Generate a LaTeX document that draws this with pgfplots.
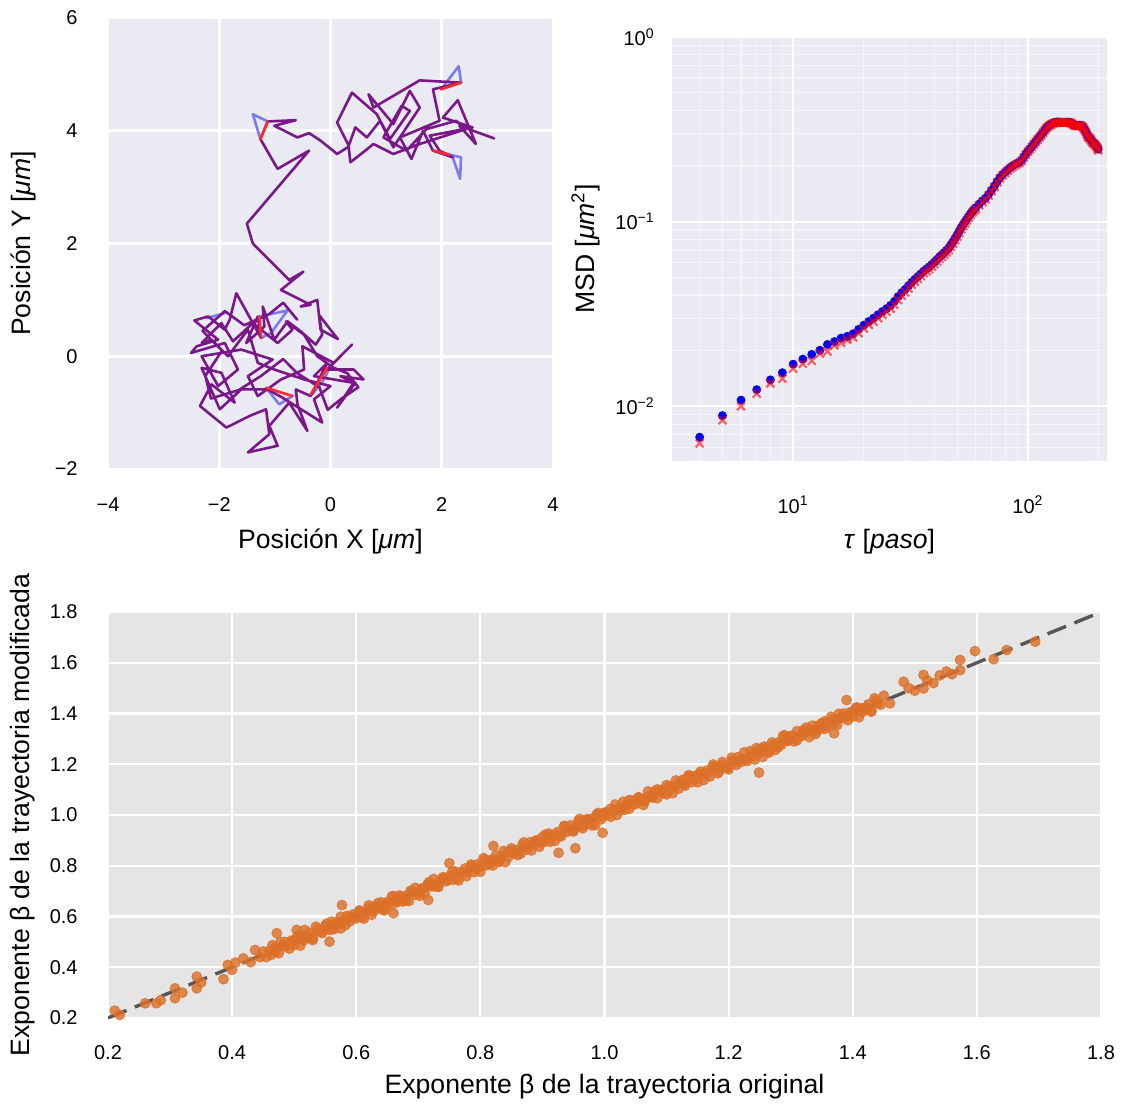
\documentclass[border=0pt]{standalone}
\usepackage{fontspec}
\setmainfont{Liberation Sans}
\usepackage{pgfplots}
\pgfplotsset{compat=1.18}
\definecolor{bgsb}{HTML}{EAEAF2}
\definecolor{bggg}{HTML}{E5E5E5}
\definecolor{trajp}{HTML}{7A188A}
\definecolor{trajb}{HTML}{7070F0}
\definecolor{trajr}{HTML}{FF2A2A}
\definecolor{scat}{HTML}{DC7028}
\definecolor{dline}{HTML}{333333}
\pgfplotsset{
 myax/.style={
   scale only axis, anchor=south west,
   axis line style={draw=none},
   major tick length=0pt, minor tick length=0pt,
   tick label style={font=\fontsize{10}{12}\selectfont, inner sep=0pt},
   label style={font=\fontsize{13.3}{16}\selectfont},
 },
 trajline/.style={no marks, line width=1.3pt, line join=round, line cap=round},
}
\begin{document}
\begin{tikzpicture}
\useasboundingbox (0,0) rectangle (562pt,552pt);
% ---------------- top left: trajectory
\begin{axis}[myax, at={(54pt,317.5pt)}, width=222.5pt, height=225.5pt,
 axis background/.style={fill=bgsb},
 xmin=-4,xmax=4,ymin=-2,ymax=6,
 xtick={-4,-2,0,2,4}, xticklabels={−4,−2,0,2,4},
 ytick={-2,0,2,4,6}, yticklabels={−2,0,2,4,6},
 grid=major, major grid style={white, line width=1.4pt},
 xticklabel style={anchor=center, yshift=-18pt},
 yticklabel style={anchor=east, xshift=-15pt},
 xlabel={Posición X [\textit{μm}]}, ylabel={Posición Y [\textit{μm}]},
 xlabel style={at={(axis description cs:0.5,-0.160)}, anchor=center},
 ylabel style={at={(axis description cs:-0.189,0.5)}, anchor=center},
]
\addplot[trajline, trajb, opacity=0.9] coordinates {(-1.129,4.165) (-1.396,4.294) (-1.260,3.853)};
\addplot[trajline, trajb, opacity=0.9] coordinates {(1.990,4.735) (2.305,5.147) (2.347,4.853)};
\addplot[trajline, trajb, opacity=0.9] coordinates {(1.842,3.647) (2.347,3.529) (2.329,3.147) (2.198,3.529)};
\addplot[trajline, trajb, opacity=0.9] coordinates {(-2.228,0.676) (-1.901,0.765)};
\addplot[trajline, trajb, opacity=0.9] coordinates {(-1.277,0.706) (-0.772,0.812) (-1.070,0.412) (-1.248,0.324)};
\addplot[trajline, trajb, opacity=0.9] coordinates {(-1.158,-0.559) (-0.921,-0.853) (-0.683,-0.706)};
\addplot[trajline, trajb, opacity=0.9] coordinates {(-0.327,-0.676) (-0.119,-0.412) (-0.030,-0.235)};
\addplot[trajline, trajp] table {
2.941 3.865
2.317 4.088
2.614 3.765
2.288 4.541
2.020 4.235
2.555 4.059
1.783 3.912
1.961 3.647
2.198 3.529
1.842 3.647
1.664 4.000
1.456 3.500
1.248 3.882
1.961 4.176
1.842 4.735
2.347 4.853
1.604 4.894
0.772 4.412
0.683 4.647
1.129 4.118
1.426 4.706
1.604 4.412
1.129 3.706
0.891 4.176
0.654 3.882
0.446 4.059
0.327 3.735
0.119 4.147
0.386 4.676
0.832 4.294
1.070 3.853
1.426 4.353
1.277 4.441
0.951 3.882
1.367 3.647
1.723 4.029
2.258 4.176
2.436 4.029
1.604 3.765
1.129 3.588
0.772 3.765
0.564 3.600
0.357 3.441
0.327 3.718
0.119 3.588
-0.178 3.824
-0.386 3.959
-0.594 3.882
-1.010 4.088
-0.624 4.188
-1.129 4.165
-1.260 3.853
-0.951 3.324
-0.386 3.647
-1.503 2.353
-1.396 2.000
-0.743 1.353
-0.487 1.500
-0.891 1.176
-0.357 0.912
-0.535 0.882
-0.238 1.000
-0.178 0.471
0.131 0.306
-0.208 0.735
-0.149 0.382
-0.267 0.206
-0.535 0.441
-0.772 0.618
-1.010 0.294
-1.218 0.882
-1.188 0.529
-1.515 0.235
-1.307 0.706
-1.248 0.324
-1.693 1.118
-1.812 0.647
-1.901 0.471
-2.198 0.706
-2.448 0.635
-2.020 0.294
-2.406 0.176
-2.507 0.059
-1.901 0.235
-1.664 -0.235
-2.020 -0.529
-2.317 0.000
-1.604 0.118
-1.040 -0.059
-1.485 -0.353
-1.307 -0.706
-0.891 -0.412
-0.475 -0.235
-0.505 0.176
0.059 -0.118
0.386 0.206
-0.059 -0.235
0.416 -0.235
0.594 -0.412
0.178 -0.353
0.446 -0.471
0.119 -0.912
0.416 -0.471
-0.297 -0.353
-0.059 -0.118
-0.357 -0.706
-0.624 -0.588
-0.594 -0.853
-0.416 -1.324
-0.743 -0.824
-1.099 -1.235
-0.951 -1.588
-1.485 -1.706
-1.099 -1.382
-1.159 -0.941
-1.456 -1.059
-1.872 -1.265
-2.347 -0.882
-2.139 -0.500
-1.723 -0.824
-1.961 -0.294
-2.317 -0.206
-1.990 -0.941
-1.604 -0.588
-1.129 -0.588
-0.862 -0.735
-0.149 -1.176
-0.297 -0.765
0.000 -0.529
-0.475 -0.412
-1.010 -0.235
-1.307 -0.118
-1.485 0.471
-1.842 0.000
-2.139 0.294
-2.317 0.235
-1.961 0.588
-1.753 0.265
-1.396 0.588
-0.951 0.235
-0.683 0.471
-0.802 0.618
-0.475 0.382
-0.238 0.000
0.059 -0.206
0.300 -0.300
0.500 -0.550
0.200 -0.750
-0.050 -0.950
-0.200 -0.550
-0.600 -0.300
-0.850 -0.050
-1.250 -0.350
-1.650 -0.600
-2.150 -0.750
-2.250 -0.350
-1.950 0.100
-2.300 0.450
-1.900 0.800
-1.550 0.550
-1.100 0.750
-0.850 0.950
-0.600 0.650
};
\addplot[trajline, trajr] coordinates {(-1.129,4.165) (-1.260,3.853)};
\addplot[trajline, trajr] coordinates {(1.990,4.735) (2.347,4.853)};
\addplot[trajline, trajr] coordinates {(1.842,3.647) (2.139,3.576)};
\addplot[trajline, trajr] coordinates {(-1.277,0.706) (-1.248,0.324)};
\addplot[trajline, trajr] coordinates {(-1.158,-0.559) (-0.683,-0.706)};
\addplot[trajline, trajr] coordinates {(-0.357,-0.676) (-0.059,-0.206)};
\end{axis}
% ---------------- top right: MSD
\begin{axis}[myax, at={(336pt,321.5pt)}, width=217.5pt, height=212pt,
 axis background/.style={fill=bgsb},
 xmode=log, ymode=log, xmin=3.05, xmax=217, ymin=0.00505, ymax=1,
 xtick={10,100}, xticklabels={10\textsuperscript{1},10\textsuperscript{2}},
 ytick={0.01,0.1,1}, yticklabels={10\textsuperscript{−2},10\textsuperscript{−1},10\textsuperscript{0}},
 minor xtick={4,5,6,7,8,9,20,30,40,50,60,70,80,90,200},
 minor ytick={0.006,0.007,0.008,0.009,0.02,0.03,0.04,0.05,0.06,0.07,0.08,0.09,0.2,0.3,0.4,0.5,0.6,0.7,0.8,0.9},
 grid=both, major grid style={white, line width=1.1pt},
 minor grid style={white, opacity=0.55, line width=0.6pt},
 xticklabel style={anchor=base, yshift=-26pt},
 yticklabel style={anchor=east, xshift=-8.5pt},
 xlabel={\textit{τ} [\textit{paso}]}, ylabel={MSD [\textit{μm}\textsuperscript{2}]},
 xlabel style={at={(axis description cs:0.5,-0.189)}, anchor=center},
 ylabel style={at={(axis description cs:-0.198,0.5)}, anchor=center},
]
\addplot[only marks, color=blue, mark=*, mark size=2pt, mark options={fill=blue}] table {
4 0.0068
5 0.0089
6 0.0108
7 0.0123
8 0.0139
9 0.0152
10 0.0169
11 0.0180
12 0.0191
13 0.0201
14 0.0216
15 0.0224
16 0.0234
17 0.0239
18 0.0247
19 0.0261
20 0.0275
21 0.0288
22 0.0300
23 0.0313
24 0.0326
25 0.0338
26 0.0352
27 0.0370
28 0.0393
29 0.0413
30 0.0430
31 0.0450
32 0.0470
33 0.0488
34 0.0505
35 0.0522
36 0.0540
37 0.0555
38 0.0570
39 0.0588
40 0.0605
41 0.0625
42 0.0645
43 0.0662
44 0.0680
45 0.0700
46 0.0720
47 0.0750
48 0.0780
49 0.0815
50 0.0850
51 0.0890
52 0.0930
53 0.0965
54 0.1000
55 0.1035
56 0.1070
57 0.1105
58 0.1140
59 0.1165
60 0.1190
62 0.1245
64 0.1295
66 0.1340
68 0.1405
70 0.1480
72 0.1560
74 0.1650
76 0.1735
78 0.1800
80 0.1855
82 0.1905
84 0.1960
86 0.2000
88 0.2040
90 0.2070
92 0.2100
94 0.2150
96 0.2240
98 0.2330
100 0.2410
102 0.2480
104 0.2560
106 0.2640
108 0.2720
110 0.2800
112 0.2880
114 0.2960
116 0.3050
118 0.3140
120 0.3230
122 0.3290
124 0.3340
126 0.3385
128 0.3420
130 0.3445
132 0.3460
134 0.3465
136 0.3460
138 0.3455
140 0.3450
142 0.3450
144 0.3450
146 0.3455
148 0.3460
150 0.3455
152 0.3440
154 0.3400
156 0.3360
158 0.3330
160 0.3310
162 0.3315
164 0.3320
166 0.3330
168 0.3330
170 0.3290
172 0.3240
174 0.3160
176 0.3080
178 0.2990
180 0.2900
182 0.2860
184 0.2820
186 0.2760
188 0.2700
190 0.2670
192 0.2640
194 0.2600
196 0.2560
198 0.2500
199 0.2470
};
\addplot[only marks, color=red, mark=x, mark size=2.8pt, mark options={line width=1.1pt, opacity=0.6}] table {
4 0.0063
5 0.0084
6 0.0100
7 0.0117
8 0.0133
9 0.0141
10 0.0160
11 0.0170
12 0.0176
13 0.0193
14 0.0198
15 0.0214
16 0.0221
17 0.0229
18 0.0236
19 0.0249
20 0.0264
21 0.0276
22 0.0287
23 0.0300
24 0.0313
25 0.0325
26 0.0338
27 0.0354
28 0.0376
29 0.0397
30 0.0414
31 0.0434
32 0.0455
33 0.0472
34 0.0490
35 0.0507
36 0.0525
37 0.0539
38 0.0553
39 0.0570
40 0.0588
41 0.0608
42 0.0628
43 0.0645
44 0.0662
45 0.0681
46 0.0700
47 0.0730
48 0.0760
49 0.0795
50 0.0830
51 0.0870
52 0.0910
53 0.0945
54 0.0980
55 0.1015
56 0.1050
57 0.1085
58 0.1120
59 0.1145
60 0.1170
62 0.1225
64 0.1275
66 0.1320
68 0.1385
70 0.1460
72 0.1540
74 0.1630
76 0.1715
78 0.1780
80 0.1835
82 0.1885
84 0.1940
86 0.1980
88 0.2020
90 0.2050
92 0.2080
94 0.2130
96 0.2220
98 0.2310
100 0.2390
102 0.2460
104 0.2540
106 0.2620
108 0.2700
110 0.2780
112 0.2860
114 0.2940
116 0.3030
118 0.3120
120 0.3210
122 0.3270
124 0.3320
126 0.3365
128 0.3400
130 0.3425
132 0.3440
134 0.3450
136 0.3450
138 0.3445
140 0.3440
142 0.3435
144 0.3435
146 0.3440
148 0.3445
150 0.3440
152 0.3425
154 0.3385
156 0.3345
158 0.3315
160 0.3295
162 0.3300
164 0.3305
166 0.3310
168 0.3310
170 0.3270
172 0.3220
174 0.3140
176 0.3060
178 0.2970
180 0.2880
182 0.2840
184 0.2800
186 0.2740
188 0.2680
190 0.2650
192 0.2620
194 0.2580
196 0.2540
198 0.2480
199 0.2430
};
\end{axis}
% ---------------- bottom: beta scatter
\begin{axis}[myax, at={(54pt,43pt)}, width=496.5pt, height=203pt,
 axis background/.style={fill=bggg},
 xmin=0.2,xmax=1.8,ymin=0.2,ymax=1.8,
 xtick={0.2,0.4,0.6,0.8,1.0,1.2,1.4,1.6,1.8},
 xticklabels={0.2,0.4,0.6,0.8,1.0,1.2,1.4,1.6,1.8},
 ytick={0.2,0.4,0.6,0.8,1.0,1.2,1.4,1.6,1.8},
 yticklabels={0.2,0.4,0.6,0.8,1.0,1.2,1.4,1.6,1.8},
 grid=major, major grid style={white, line width=1.1pt},
 xticklabel style={anchor=center, yshift=-17.5pt},
 yticklabel style={anchor=east, xshift=-15pt},
 xlabel={Exponente β de la trayectoria original},
 ylabel={Exponente β de la trayectoria modificada},
 xlabel style={at={(axis description cs:0.5,-0.170)}, anchor=center},
 ylabel style={at={(axis description cs:-0.086,0.5)}, anchor=center},
]
\addplot[only marks, color=scat, mark=*, mark size=2.5pt, mark options={fill=scat, opacity=0.8}] table {
0.211 0.229
0.219 0.212
0.260 0.258
0.278 0.258
0.285 0.270
0.308 0.317
0.308 0.278
0.320 0.300
0.343 0.363
0.343 0.317
0.350 0.340
0.386 0.353
0.393 0.409
0.400 0.390
0.405 0.418
0.418 0.435
0.430 0.420
0.437 0.468
0.445 0.440
0.472 0.534
0.504 0.547
0.517 0.547
0.557 0.501
0.577 0.645
0.660 0.613
0.716 0.665
0.750 0.810
0.821 0.878
0.926 0.851
0.953 0.869
0.997 0.930
1.249 1.167
1.370 1.322
1.390 1.453
1.450 1.470
1.460 1.440
1.482 1.525
1.490 1.500
1.500 1.490
1.514 1.552
1.514 1.499
1.520 1.530
1.530 1.520
1.540 1.550
1.551 1.565
1.560 1.555
1.573 1.571
1.573 1.611
1.597 1.646
1.627 1.614
1.648 1.650
1.694 1.683
0.450 0.462
0.455 0.440
0.460 0.465
0.465 0.487
0.470 0.462
0.475 0.455
0.480 0.483
0.485 0.500
0.490 0.487
0.495 0.504
0.500 0.488
0.505 0.523
0.510 0.485
0.515 0.521
0.520 0.515
0.525 0.536
0.530 0.513
0.535 0.560
0.540 0.540
0.545 0.535
0.550 0.564
0.555 0.549
0.560 0.580
0.565 0.551
0.570 0.578
0.575 0.553
0.580 0.582
0.585 0.602
0.590 0.581
0.595 0.608
0.600 0.593
0.605 0.624
0.610 0.597
0.615 0.619
0.620 0.644
0.625 0.607
0.630 0.640
0.635 0.633
0.640 0.656
0.645 0.624
0.650 0.657
0.655 0.644
0.660 0.681
0.665 0.661
0.670 0.683
0.675 0.659
0.680 0.681
0.685 0.661
0.690 0.699
0.695 0.713
0.700 0.691
0.705 0.710
0.710 0.691
0.715 0.727
0.720 0.719
0.725 0.748
0.730 0.718
0.735 0.738
0.740 0.755
0.745 0.739
0.750 0.758
0.755 0.745
0.760 0.777
0.765 0.742
0.770 0.772
0.775 0.789
0.780 0.775
0.785 0.805
0.790 0.775
0.795 0.806
0.800 0.797
0.805 0.830
0.810 0.802
0.815 0.821
0.820 0.801
0.825 0.841
0.830 0.817
0.835 0.839
0.840 0.814
0.845 0.855
0.850 0.869
0.855 0.848
0.860 0.861
0.865 0.848
0.870 0.892
0.875 0.864
0.880 0.893
0.885 0.883
0.890 0.897
0.895 0.875
0.900 0.913
0.905 0.896
0.910 0.927
0.915 0.917
0.920 0.898
0.925 0.933
0.930 0.916
0.935 0.955
0.940 0.934
0.945 0.959
0.950 0.940
0.955 0.955
0.960 0.985
0.965 0.948
0.970 0.981
0.975 0.970
0.980 0.986
0.985 0.960
0.990 1.008
0.995 0.983
1.000 1.009
1.005 1.002
1.010 1.025
1.015 1.018
1.020 1.000
1.025 1.017
1.030 1.052
1.035 1.040
1.040 1.025
1.045 1.057
1.050 1.044
1.055 1.070
1.060 1.063
1.065 1.053
1.070 1.093
1.075 1.074
1.080 1.092
1.085 1.066
1.090 1.095
1.095 1.086
1.100 1.118
1.105 1.114
1.110 1.086
1.115 1.116
1.120 1.104
1.125 1.138
1.130 1.126
1.135 1.156
1.140 1.129
1.145 1.152
1.150 1.129
1.155 1.171
1.160 1.158
1.165 1.175
1.170 1.152
1.175 1.199
1.180 1.184
1.185 1.172
1.190 1.209
1.195 1.188
1.200 1.180
1.205 1.212
1.210 1.208
1.215 1.228
1.220 1.209
1.225 1.247
1.230 1.213
1.235 1.236
1.240 1.233
1.245 1.264
1.250 1.260
1.255 1.229
1.260 1.264
1.265 1.252
1.270 1.286
1.275 1.256
1.280 1.286
1.285 1.277
1.290 1.315
1.295 1.292
1.300 1.311
1.305 1.290
1.310 1.330
1.315 1.310
1.320 1.334
1.325 1.327
1.330 1.307
1.335 1.352
1.340 1.330
1.345 1.353
1.350 1.362
1.355 1.340
1.360 1.365
1.365 1.387
1.370 1.362
1.375 1.355
1.380 1.383
1.385 1.400
1.390 1.387
1.395 1.404
1.400 1.388
1.405 1.423
1.410 1.385
1.415 1.421
1.420 1.415
1.425 1.436
1.430 1.413
1.435 1.460
1.440 1.440
1.445 1.435
0.4625 0.4485
0.4700 0.4790
0.4775 0.4985
0.4850 0.4820
0.4925 0.4735
0.5000 0.5060
0.5075 0.5235
0.5150 0.5060
0.5225 0.5245
0.5300 0.5070
0.5375 0.5505
0.5450 0.5390
0.5525 0.5715
0.5600 0.5480
0.5675 0.5715
0.5750 0.5990
0.5825 0.5655
0.5900 0.5980
0.5975 0.5965
0.6050 0.6200
0.6125 0.5915
0.6200 0.6310
0.6275 0.6205
0.6350 0.6530
0.6425 0.6275
0.6500 0.6500
0.6575 0.6795
0.6650 0.6550
0.6725 0.6775
0.6800 0.6620
0.6875 0.7015
0.6950 0.6860
0.7025 0.6815
0.7100 0.7130
0.7175 0.7365
0.7250 0.7190
0.7325 0.7165
0.7400 0.7490
0.7475 0.7455
0.7550 0.7780
0.7625 0.7495
0.7700 0.7760
0.7775 0.7585
0.7850 0.7970
0.7925 0.7885
0.8000 0.7760
0.8075 0.8245
0.8150 0.8070
0.8225 0.8235
0.8300 0.8150
0.8375 0.8585
0.8450 0.8340
0.8525 0.8595
0.8600 0.8420
0.8675 0.8825
0.8750 0.8750
0.8825 0.8605
0.8900 0.9000
0.8975 0.8925
0.9050 0.9230
0.9125 0.8945
0.9200 0.9250
0.9275 0.9175
0.9350 0.9570
0.9425 0.9425
0.9500 0.9350
0.9575 0.9755
0.9650 0.9580
0.9725 0.9835
0.9800 0.9590
0.9875 1.0025
0.9950 0.9940
1.0025 1.0105
1.0100 0.9930
1.0175 1.0415
1.0250 1.0290
1.0325 1.0205
1.0400 1.0590
1.0475 1.0415
1.0550 1.0680
1.0625 1.0395
1.0700 1.0720
1.0775 1.0685
1.0850 1.1010
1.0925 1.0985
1.1000 1.0810
1.1075 1.1045
1.1150 1.1360
1.1225 1.1315
1.1300 1.1160
1.1375 1.1555
1.1450 1.1400
1.1525 1.1625
1.1600 1.1380
1.1675 1.1675
1.1750 1.1900
1.1825 1.1645
1.1900 1.1970
1.1975 1.1865
1.2050 1.2260
1.2125 1.1975
1.2200 1.2210
1.2275 1.2195
1.2350 1.2520
1.2425 1.2185
1.2500 1.2460
1.2575 1.2695
1.2650 1.2460
1.2725 1.2785
1.2800 1.2670
1.2875 1.3105
1.2950 1.2930
1.3025 1.3115
1.3100 1.2940
1.3175 1.3115
1.3250 1.3440
1.3325 1.3355
1.3400 1.3190
1.3475 1.3385
1.3550 1.3690
1.3625 1.3485
1.3700 1.3790
1.3775 1.3985
1.3850 1.3820
1.3925 1.3735
1.4000 1.4060
1.4075 1.4235
1.4150 1.4060
1.4225 1.4245
1.4300 1.4070
1.4375 1.4505
};
\addplot[no marks, draw=dline, opacity=0.8, line width=1.7pt, dash pattern=on 10pt off 4.5pt] coordinates {(0.2,0.2) (1.8,1.8)};
\end{axis}
\end{tikzpicture}
\end{document}
